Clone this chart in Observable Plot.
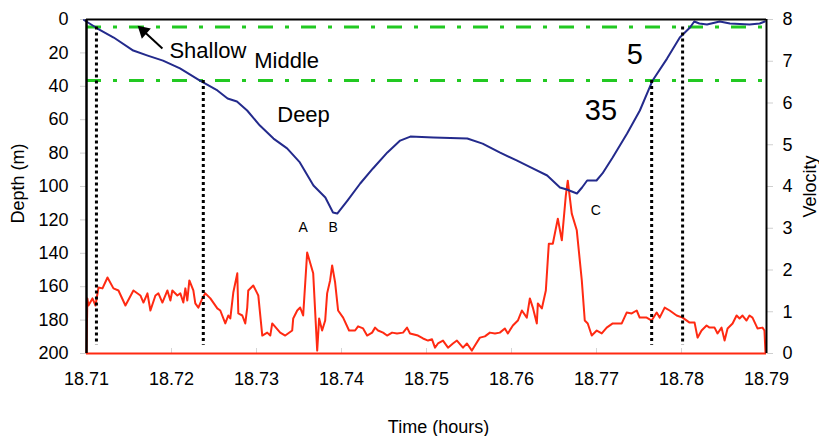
<!DOCTYPE html>
<html>
<head>
<meta charset="utf-8">
<script src="https://cdn.jsdelivr.net/npm/d3@7"></script>
<script src="https://cdn.jsdelivr.net/npm/@observablehq/plot@0.6"></script>
<style>
  html, body { margin: 0; padding: 0; background: #fff; }
  #chart svg { display: block; }
</style>
</head>
<body>
<div id="chart"></div>
<script>
// ---- Data ----
const xTicks = [18.71, 18.72, 18.73, 18.74, 18.75, 18.76, 18.77, 18.78, 18.79];
const depthTicks = [0, 20, 40, 60, 80, 100, 120, 140, 160, 180, 200];
const velTicks = [0, 1, 2, 3, 4, 5, 6, 7, 8];

// Depth profile (blue)
const depthTime = [18.7097, 18.7113, 18.7132, 18.7155, 18.7172, 18.7190, 18.7210, 18.7233, 18.7254, 18.7266,
  18.7277, 18.7289, 18.7304, 18.7320, 18.7336, 18.7351, 18.7367, 18.7381, 18.7390, 18.7395,
  18.7407, 18.7422, 18.7437, 18.7454, 18.7469, 18.7481, 18.7508, 18.7548, 18.7566, 18.7586,
  18.7606, 18.7625, 18.7642, 18.7657, 18.7665, 18.7677, 18.7683, 18.7689, 18.7700, 18.7707,
  18.7719, 18.7736, 18.7751, 18.7766, 18.7783, 18.7798, 18.7810, 18.7815, 18.7821, 18.7830,
  18.7845, 18.7857, 18.7880, 18.7892, 18.7898];
const depthVal = [0.3, 5.4, 10.8, 18.6, 21.6, 24.6, 29.3, 36.5, 42.5, 47.3,
  49.1, 54.5, 63.5, 71.3, 77.2, 85.6, 99.4, 106.6, 115.6, 116.2,
  108.4, 98.2, 89.2, 79.6, 72.5, 70.1, 70.7, 71.3, 74.3, 79.6,
  84.4, 89.2, 93.4, 100.6, 101.8, 104.2, 100.6, 96.4, 96.4, 92.2,
  82.6, 68.3, 54.5, 36.5, 23.4, 10.8, 4.8, 1.2, 2.4, 3.0,
  1.2, 2.4, 3.0, 2.4, 1.2];

// Velocity (red)
const velTime = [18.7100, 18.7101, 18.71023, 18.71070, 18.71106, 18.71141, 18.71188, 18.71247, 18.71317, 18.71376,
  18.71458, 18.71552, 18.71634, 18.71670, 18.71717, 18.71752, 18.71811, 18.71846, 18.71893, 18.71952,
  18.71987, 18.72010, 18.72069, 18.72104, 18.72139, 18.72163, 18.72186, 18.72210, 18.72257, 18.72280,
  18.72316, 18.72363, 18.72398, 18.72457, 18.72539, 18.72574, 18.72633, 18.72668, 18.72692, 18.72727,
  18.72774, 18.72786, 18.72833, 18.72868, 18.72891, 18.72903, 18.72962, 18.73009, 18.73021, 18.73068,
  18.73126, 18.73162, 18.73185, 18.73279, 18.73338, 18.73420, 18.73432, 18.73479, 18.73514, 18.73549,
  18.73596, 18.73667, 18.73714, 18.73737, 18.73772, 18.73808, 18.73831, 18.73866, 18.73890, 18.73925,
  18.73960, 18.74019, 18.74089, 18.74160, 18.74195, 18.74254, 18.74301, 18.74360, 18.74395, 18.74430,
  18.74489, 18.74536, 18.74595, 18.74653, 18.74724, 18.74771, 18.74806, 18.74900, 18.74959, 18.75018,
  18.75065, 18.75100, 18.75135, 18.75194, 18.75253, 18.75311, 18.75358, 18.75429, 18.75476, 18.75534,
  18.75570, 18.75628, 18.75687, 18.75746, 18.75805, 18.75863, 18.75922, 18.75957, 18.76016, 18.76075,
  18.76122, 18.76180, 18.76216, 18.76251, 18.76298, 18.76310, 18.76357, 18.76404, 18.76439, 18.76486,
  18.76545, 18.76592, 18.76639, 18.76662, 18.76709, 18.76768, 18.76827, 18.76862, 18.76897, 18.76944,
  18.77003, 18.77062, 18.77120, 18.77191, 18.77297, 18.77355, 18.77414, 18.77473, 18.77508, 18.77590,
  18.77649, 18.77708, 18.77743, 18.77802, 18.77861, 18.77943, 18.78013, 18.78095, 18.78154, 18.78189,
  18.78236, 18.78295, 18.78330, 18.78389, 18.78424, 18.78471, 18.78507, 18.78542, 18.78601, 18.78648,
  18.78683, 18.78718, 18.78765, 18.78800, 18.78835, 18.78894, 18.78953, 18.78976, 18.78988];
const velVal = [0.02, 1.32, 1.15, 1.32, 1.15, 1.58, 1.56, 1.82, 1.56, 1.51,
  1.15, 1.51, 1.39, 1.22, 1.44, 1.03, 1.39, 1.44, 1.22, 1.51,
  1.27, 1.51, 1.39, 1.44, 1.22, 1.56, 1.27, 1.75, 1.51, 1.20,
  1.10, 1.32, 1.44, 1.32, 1.08, 1.03, 0.72, 0.91, 0.84, 1.46,
  1.92, 0.96, 0.91, 0.72, 1.10, 1.51, 1.63, 1.44, 1.39, 0.43,
  0.50, 0.43, 0.72, 0.50, 0.43, 0.55, 0.84, 1.03, 1.10, 0.91,
  2.42, 1.92, 0.07, 0.84, 0.55, 0.79, 1.44, 1.75, 2.11, 1.70,
  1.03, 0.86, 0.55, 0.55, 0.65, 0.60, 0.43, 0.50, 0.62, 0.55,
  0.50, 0.43, 0.50, 0.48, 0.50, 0.62, 0.48, 0.43, 0.36, 0.31,
  0.34, 0.14, 0.24, 0.31, 0.14, 0.24, 0.31, 0.14, 0.24, 0.07,
  0.19, 0.38, 0.41, 0.50, 0.48, 0.50, 0.60, 0.48, 0.67, 0.79,
  1.03, 0.86, 1.32, 1.10, 0.72, 1.20, 1.08, 1.51, 2.63, 2.63,
  3.23, 2.71, 3.78, 4.14, 3.35, 2.95, 1.75, 0.79, 0.72, 0.43,
  0.55, 0.48, 0.62, 0.72, 0.72, 0.98, 0.96, 1.03, 0.86, 0.86,
  0.79, 0.98, 0.86, 1.10, 1.03, 0.91, 0.86, 0.74, 0.74, 0.38,
  0.55, 0.67, 0.62, 0.62, 0.48, 0.62, 0.31, 0.60, 0.72, 0.91,
  0.84, 0.91, 0.79, 0.91, 0.86, 0.60, 0.62, 0.55, 0.02];

// Zone boundaries (depth, m) and their crossing times
const zoneDepths = [4.5, 36.5];
const crossTimes = [18.71117, 18.72374, 18.77649, 18.78013];
const crossDepths = [4.5, 36.5, 36.5, 4.5];
const crossBottom = 195;

// ---- Build tables ----
const VMAX = 8, DMAX = 200;
const v2d = v => (VMAX - v) * (DMAX / VMAX);
const depthData = depthTime.map((t, i) => ({t, d: depthVal[i]}));
const velData = velTime.map((t, i) => ({t, d: v2d(velVal[i])}));
const crossData = crossTimes.map((t, i) => ({t, top: crossDepths[i], bottom: crossBottom}));

const font = "'Liberation Sans', Arial, sans-serif";

const labels = [
  {text: "Shallow", t: 18.71975, d: 23.1, size: 22},
  {text: "Middle", t: 18.72974, d: 29.1, size: 22},
  {text: "Deep", t: 18.73244, d: 61.5, size: 22},
  {text: "5", t: 18.77355, d: 26.7, size: 29},
  {text: "35", t: 18.76862, d: 60.3, size: 29},
  {text: "A", t: 18.73549, d: 127.4, size: 14},
  {text: "B", t: 18.73902, d: 127.4, size: 14},
  {text: "C", t: 18.76991, d: 117.2, size: 14}
];
const bigLabels = labels.filter(l => l.size === 22);
const numLabels = labels.filter(l => l.size === 29);
const smallLabels = labels.filter(l => l.size === 14);

const arrowTail = {t: 18.71893, d: 17.4};
const arrowHead = {t: 18.71670, d: 6.9};

const chart = Plot.plot({
  width: 819,
  height: 436,
  marginLeft: 86,
  marginRight: 53,
  marginTop: 19,
  marginBottom: 83,
  style: {fontFamily: font, fontSize: "18px", color: "#000", background: "#fff", overflow: "visible"},
  x: {domain: [18.71, 18.79]},
  y: {domain: [0, 200], reverse: true},
  marks: [
    // light tick stubs
    Plot.axisY(depthTicks, {anchor: "left", tickSize: 6, tickFormat: () => "", stroke: "#cfcfcf", label: null}),
    Plot.axisY(velTicks.map(v2d), {anchor: "right", tickSize: 6, tickFormat: () => "", stroke: "#cfcfcf", label: null}),
    Plot.ruleX(xTicks, {y1: 197, y2: 200, stroke: "#d5d5d5"}),
    // axis labels
    Plot.axisY(depthTicks, {anchor: "left", tickSize: 0, tickPadding: 18, fontSize: 18, label: null}),
    Plot.axisY(velTicks.map(v2d), {anchor: "right", tickSize: 0, tickPadding: 16, fontSize: 18,
      tickFormat: d => String(Math.round(VMAX - d * VMAX / DMAX)), label: null}),
    Plot.axisX(xTicks, {tickSize: 0, tickPadding: 19, fontSize: 18, tickFormat: d3.format(".2f"), label: null}),
    // axis titles
    Plot.text(["Depth (m)"], {frameAnchor: "left", textAnchor: "middle", dx: -68, dy: -3, rotate: -90, fontSize: 18}),
    Plot.text(["Velocity"], {frameAnchor: "right", textAnchor: "middle", dx: 44, dy: 0, rotate: -90, fontSize: 18}),
    Plot.text(["Time (hours)"], {frameAnchor: "bottom", textAnchor: "middle", lineAnchor: "bottom", dx: 12, dy: 79, fontSize: 18}),
    // zone boundaries
    Plot.ruleY(zoneDepths, {stroke: "#22c922", strokeWidth: 3, strokeDasharray: "15,12,4,12"}),
    // velocity
    Plot.line(velData, {x: "t", y: "d", stroke: "#ff2a12", strokeWidth: 2}),
    Plot.ruleY([200], {stroke: "#ff2a12", strokeWidth: 2}),
    // depth
    Plot.line(depthData, {x: "t", y: "d", stroke: "#232a8c", strokeWidth: 2}),
    // crossing markers
    Plot.ruleX(crossData, {x: "t", y1: "top", y2: "bottom", stroke: "#000", strokeWidth: 3, strokeDasharray: "3,3"}),
    // frame
    Plot.ruleX([18.71], {stroke: "#000", strokeWidth: 2.5}),
    Plot.ruleX([18.79], {stroke: "#000", strokeWidth: 2}),
    Plot.ruleY([0], {stroke: "#000", strokeWidth: 2}),
    // annotations
    Plot.text(bigLabels, {x: "t", y: "d", text: "text", textAnchor: "start", lineAnchor: "bottom", fontSize: 22}),
    Plot.text(numLabels, {x: "t", y: "d", text: "text", textAnchor: "start", lineAnchor: "bottom", fontSize: 29}),
    Plot.text(smallLabels, {x: "t", y: "d", text: "text", textAnchor: "middle", lineAnchor: "bottom", fontSize: 14}),
    Plot.link([0], {x1: () => arrowTail.t, y1: () => arrowTail.d, x2: () => arrowHead.t, y2: () => arrowHead.d, stroke: "#000", strokeWidth: 2}),
    Plot.dot([0], {x: () => arrowHead.t, y: () => arrowHead.d, symbol: "triangle", r: 5, fill: "#000", stroke: null, rotate: -48})
  ]
});
document.getElementById("chart").append(chart);
</script>
</body>
</html>
